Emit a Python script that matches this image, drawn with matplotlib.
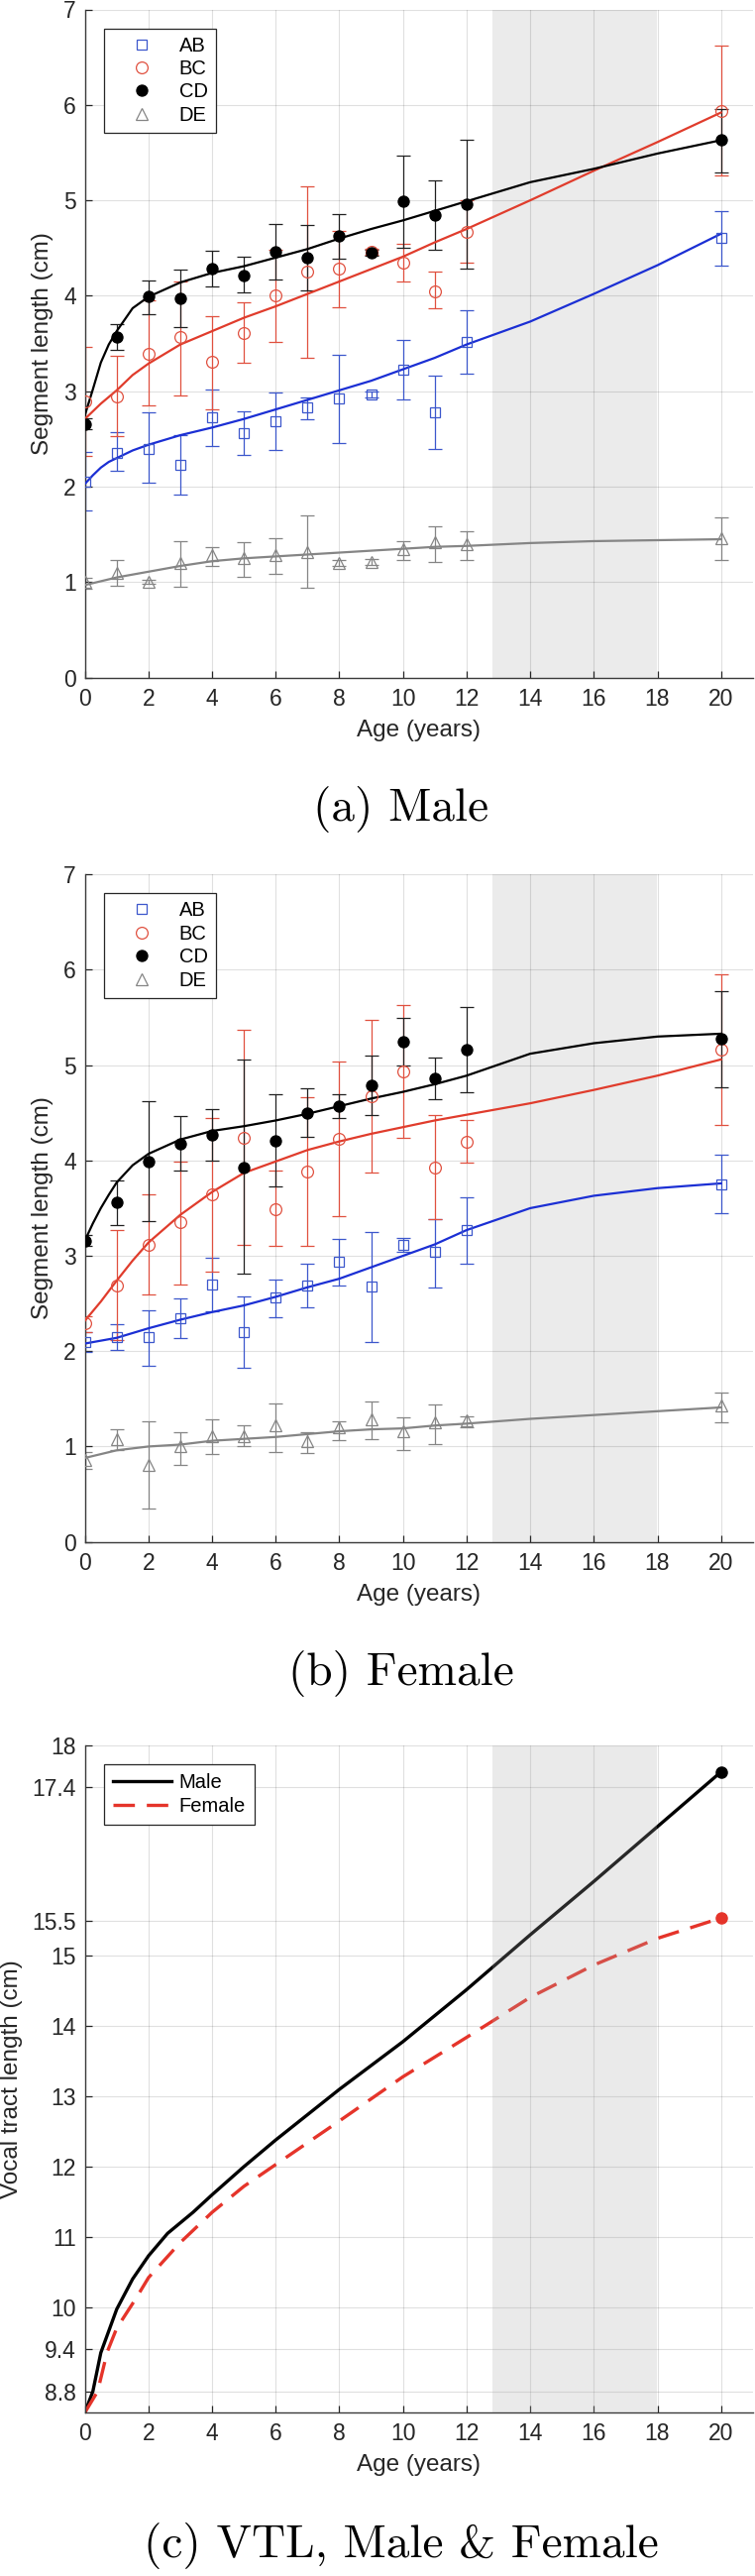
import matplotlib
matplotlib.use('Agg')
import matplotlib.pyplot as plt
from matplotlib.lines import Line2D
from matplotlib.ticker import FormatStrFormatter
import numpy as np

plt.rcParams['font.family'] = ['Liberation Sans', 'DejaVu Sans']

# ---------------- data ----------------
ages = [0, 1, 2, 3, 4, 5, 6, 7, 8, 9, 10, 11, 12, 20]
fit_x = [0, 0.25, 0.5, 0.75, 1, 1.5, 2, 3, 4, 5, 6, 7, 8, 9, 10, 11, 12, 14, 16, 18, 20]
segments = ['AB', 'BC', 'CD', 'DE']

# Male (a)
m_ab = [2.05, 2.35, 2.40, 2.23, 2.73, 2.56, 2.69, 2.83, 2.92, 2.97, 3.23, 2.78, 3.52, 4.61]
m_ab_hi = [2.36, 2.57, 2.78, 2.54, 3.02, 2.79, 2.99, 2.94, 3.38, 3.00, 3.54, 3.16, 3.85, 4.89]
m_ab_lo = [1.75, 2.17, 2.04, 1.92, 2.43, 2.33, 2.39, 2.71, 2.46, 2.94, 2.91, 2.40, 3.18, 4.32]
m_bc = [2.89, 2.95, 3.39, 3.57, 3.31, 3.61, 4.00, 4.25, 4.29, 4.46, 4.35, 4.05, 4.67, 5.94]
m_bc_hi = [3.46, 3.37, 3.95, 4.15, 3.79, 3.93, 4.48, 5.15, 4.68, 4.49, 4.54, 4.25, 5.00, 6.62]
m_bc_lo = [2.32, 2.53, 2.85, 2.96, 2.81, 3.30, 3.52, 3.35, 3.88, 4.43, 4.15, 3.87, 4.35, 5.26]
m_cd = [2.66, 3.57, 3.99, 3.97, 4.29, 4.21, 4.46, 4.40, 4.63, 4.45, 4.99, 4.85, 4.96, 5.63]
m_cd_hi = [2.72, 3.70, 4.16, 4.27, 4.47, 4.41, 4.75, 4.74, 4.86, 4.48, 5.47, 5.21, 5.63, 5.96]
m_cd_lo = [2.60, 3.43, 3.81, 3.67, 4.10, 4.04, 4.17, 4.06, 4.39, 4.42, 4.50, 4.48, 4.28, 5.29]
m_de = [1.00, 1.10, 1.00, 1.20, 1.28, 1.25, 1.28, 1.32, 1.20, 1.21, 1.35, 1.42, 1.40, 1.46]
m_de_hi = [1.05, 1.23, 1.02, 1.43, 1.37, 1.42, 1.46, 1.70, 1.23, 1.24, 1.43, 1.59, 1.53, 1.68]
m_de_lo = [0.93, 0.96, 0.98, 0.95, 1.17, 1.06, 1.09, 0.94, 1.17, 1.18, 1.23, 1.21, 1.23, 1.23]

m_ab_fit = [2.03, 2.12, 2.20, 2.26, 2.30, 2.38, 2.44, 2.54, 2.62, 2.71, 2.81, 2.91, 3.01, 3.11, 3.23, 3.35, 3.49, 3.73, 4.02, 4.32, 4.65]
m_bc_fit = [2.71, 2.79, 2.87, 2.94, 3.01, 3.17, 3.29, 3.49, 3.63, 3.77, 3.89, 4.02, 4.15, 4.28, 4.41, 4.56, 4.70, 5.00, 5.31, 5.61, 5.92]
m_cd_fit = [2.75, 3.02, 3.30, 3.49, 3.63, 3.87, 3.99, 4.14, 4.24, 4.31, 4.40, 4.49, 4.60, 4.70, 4.79, 4.89, 4.99, 5.19, 5.33, 5.49, 5.63]
m_de_fit = [0.97, 0.99, 1.01, 1.03, 1.05, 1.08, 1.11, 1.17, 1.22, 1.25, 1.27, 1.29, 1.31, 1.33, 1.35, 1.37, 1.38, 1.41, 1.43, 1.44, 1.45]

# Female (b)
f_ab = [2.10, 2.15, 2.15, 2.35, 2.70, 2.20, 2.56, 2.69, 2.94, 2.68, 3.12, 3.04, 3.27, 3.75]
f_ab_hi = [2.20, 2.28, 2.43, 2.55, 2.98, 2.57, 2.75, 2.92, 3.18, 3.25, 3.19, 3.39, 3.61, 4.06]
f_ab_lo = [1.99, 2.01, 1.85, 2.14, 2.42, 1.83, 2.36, 2.46, 2.69, 2.10, 3.04, 2.67, 2.92, 3.45]
f_bc = [2.29, 2.69, 3.12, 3.35, 3.64, 4.24, 3.49, 3.88, 4.23, 4.67, 4.93, 3.93, 4.20, 5.16]
f_bc_hi = [2.37, 3.27, 3.65, 3.99, 4.45, 5.37, 3.89, 4.66, 5.04, 5.47, 5.63, 4.48, 4.42, 5.95]
f_bc_lo = [2.20, 2.12, 2.59, 2.70, 2.83, 3.12, 3.10, 3.10, 3.42, 3.87, 4.24, 3.38, 3.98, 4.37]
f_cd = [3.16, 3.56, 3.99, 4.18, 4.27, 3.93, 4.21, 4.50, 4.57, 4.79, 5.25, 4.86, 5.16, 5.28]
f_cd_hi = [3.22, 3.79, 4.62, 4.47, 4.54, 5.06, 4.69, 4.76, 4.69, 5.10, 5.50, 5.08, 5.61, 5.78]
f_cd_lo = [3.10, 3.32, 3.36, 3.89, 4.00, 2.81, 3.73, 4.25, 4.45, 4.48, 5.00, 4.64, 4.72, 4.77]
f_de = [0.86, 1.08, 0.81, 1.00, 1.11, 1.11, 1.22, 1.06, 1.20, 1.29, 1.16, 1.25, 1.27, 1.43]
f_de_hi = [0.94, 1.18, 1.26, 1.15, 1.28, 1.22, 1.45, 1.15, 1.26, 1.47, 1.31, 1.44, 1.32, 1.57]
f_de_lo = [0.77, 0.96, 0.35, 0.81, 0.92, 1.00, 0.94, 0.93, 1.07, 1.08, 0.96, 1.03, 1.20, 1.25]

f_ab_fit = [2.08, 2.095, 2.11, 2.125, 2.14, 2.19, 2.24, 2.33, 2.41, 2.48, 2.57, 2.67, 2.76, 2.88, 3.00, 3.12, 3.27, 3.50, 3.63, 3.71, 3.76]
f_bc_fit = [2.32, 2.42, 2.52, 2.63, 2.74, 2.95, 3.14, 3.43, 3.67, 3.87, 3.99, 4.11, 4.20, 4.28, 4.35, 4.42, 4.48, 4.60, 4.74, 4.89, 5.06]
f_cd_fit = [3.16, 3.34, 3.50, 3.64, 3.77, 3.95, 4.07, 4.22, 4.31, 4.36, 4.42, 4.49, 4.57, 4.65, 4.72, 4.80, 4.89, 5.12, 5.23, 5.30, 5.33]
f_de_fit = [0.88, 0.90, 0.92, 0.94, 0.96, 0.98, 1.00, 1.02, 1.06, 1.08, 1.10, 1.13, 1.16, 1.18, 1.19, 1.22, 1.24, 1.29, 1.33, 1.37, 1.41]

# VTL (c)
vtl_m_x = [0, 0.25, 0.5, 1, 1.5, 2, 2.6, 3.4, 4, 5, 6, 8, 10, 12, 14, 16, 18, 20]
vtl_m = [8.5, 8.8, 9.35, 9.97, 10.4, 10.73, 11.05, 11.35, 11.6, 12.0, 12.38, 13.1, 13.78, 14.52, 15.3, 16.06, 16.84, 17.62]
vtl_f_x = [0, 0.4, 0.7, 1, 1.6, 2, 3, 4, 5, 6, 8, 10, 12, 14, 16, 18, 20]
vtl_f = [8.5, 8.8, 9.36, 9.7, 10.12, 10.42, 10.92, 11.35, 11.72, 12.03, 12.65, 13.28, 13.84, 14.41, 14.87, 15.25, 15.54]

seg_yticks = [0, 1, 2, 3, 4, 5, 6, 7]
vtl_yticks = [8.8, 9.4, 10, 11, 12, 13, 14, 15, 15.5, 17.4, 18]
xticks = [0, 2, 4, 6, 8, 10, 12, 14, 16, 18, 20]
puberty = (12.8, 18)
captions = ['(a) Male', '(b) Female', '(c) VTL, Male & Female']

# ---------------- styles ----------------
C_BLUE_L = '#1b2fd4'
C_BLUE_M = '#3c57cc'
C_RED_L = '#e03c2c'
C_RED_M = '#e0503f'
C_BLACK = '#000000'
C_GRAY = '#858585'
seg_style = {
    'AB': dict(marker='s', mfc='none', mec=C_BLUE_M, ms=6.5, line=C_BLUE_L, err=C_BLUE_M),
    'BC': dict(marker='o', mfc='none', mec=C_RED_M, ms=8.5, line=C_RED_L, err=C_RED_M),
    'CD': dict(marker='o', mfc='k', mec='k', ms=8, line=C_BLACK, err='#202020'),
    'DE': dict(marker='^', mfc='none', mec=C_GRAY, ms=9, line=C_GRAY, err=C_GRAY),
}

W, H = 762, 2599
fig = plt.figure(figsize=(W / 100, H / 100), dpi=100)

def px_axes(top, bottom, left=85.7, right=759.8):
    return fig.add_axes([left / W, 1 - bottom / H, (right - left) / W, (bottom - top) / H])

def style_axes(ax, ylim, yticks, ylabel, ylabel_x):
    ax.set_xlim(0, 21)
    ax.set_ylim(*ylim)
    ax.set_xticks(xticks)
    ax.set_yticks(yticks)
    ax.yaxis.set_major_formatter(FormatStrFormatter('%g'))
    ax.grid(True, color='k', alpha=0.12, lw=0.8)
    ax.set_axisbelow(True)
    for s in ['top', 'right']:
        ax.spines[s].set_visible(False)
    for s in ['left', 'bottom']:
        ax.spines[s].set_color('#3a3a3a')
        ax.spines[s].set_linewidth(1.0)
    ax.tick_params(direction='in', length=5, width=0.9, colors='#262626', labelsize=16.5)
    ax.tick_params(axis='x', pad=7.5)
    ax.tick_params(axis='y', pad=6.5)
    ax.set_xlabel('Age (years)', fontsize=17.5, color='#262626')
    ax.set_ylabel(ylabel, fontsize=17.5, color='#262626')
    ax.xaxis.label.set_va('center')
    ax.yaxis.label.set_va('center')
    ax.xaxis.set_label_coords(0.5, -53 / 674)
    ax.yaxis.set_label_coords(ylabel_x, 0.5)

def seg_panel(ax, data):
    ax.axvspan(*puberty, color='#ebebeb', lw=0, zorder=0.2)
    handles = []
    for seg in segments:
        vals, lo, hi, fit = data[seg]
        st = seg_style[seg]
        v = np.array(vals)
        yerr = [v - np.array(lo), np.array(hi) - v]
        ax.errorbar(ages, vals, yerr=yerr, fmt='none', ecolor=st['err'],
                    elinewidth=0.9, capsize=5, capthick=0.9, zorder=2)
        ax.plot(fit_x, fit, color=st['line'], lw=1.6, zorder=3)
        ax.plot(ages, vals, ls='none', marker=st['marker'], mfc=st['mfc'],
                mec=st['mec'], ms=st['ms'], mew=0.9, zorder=4)
        handles.append(Line2D([], [], ls='none', marker=st['marker'], mfc=st['mfc'],
                              mec=st['mec'], ms=st['ms'], mew=0.9, label=seg))
    leg = ax.legend(handles=handles, loc='upper left', bbox_to_anchor=(0.0286, 0.9717),
                    fontsize=14.5, frameon=True, fancybox=False, framealpha=1,
                    edgecolor='#262626', borderpad=0.4, handlelength=3.0,
                    handletextpad=0.35, labelspacing=0.22, borderaxespad=0)
    leg.get_frame().set_linewidth(0.9)
    style_axes(ax, (0, 7), seg_yticks, 'Segment length (cm)', -0.063)

# Panel (a)
ax1 = px_axes(9.5, 683.7)
seg_panel(ax1, {
    'AB': (m_ab, m_ab_lo, m_ab_hi, m_ab_fit),
    'BC': (m_bc, m_bc_lo, m_bc_hi, m_bc_fit),
    'CD': (m_cd, m_cd_lo, m_cd_hi, m_cd_fit),
    'DE': (m_de, m_de_lo, m_de_hi, m_de_fit),
})

# Panel (b)
ax2 = px_axes(882.3, 1555.6)
seg_panel(ax2, {
    'AB': (f_ab, f_ab_lo, f_ab_hi, f_ab_fit),
    'BC': (f_bc, f_bc_lo, f_bc_hi, f_bc_fit),
    'CD': (f_cd, f_cd_lo, f_cd_hi, f_cd_fit),
    'DE': (f_de, f_de_lo, f_de_hi, f_de_fit),
})

# Panel (c)
ax3 = px_axes(1760.8, 2434)
ax3.plot(vtl_m_x, vtl_m, color='k', lw=2.4, zorder=2, label='Male',
         solid_joinstyle='round')
ax3.plot(vtl_f_x, vtl_f, color='#e5342a', lw=2.4, ls=(0, (6.5, 3.6)), zorder=2,
         label='Female')
ax3.plot([vtl_m_x[-1]], [vtl_m[-1]], marker='o', color='k', ms=8, zorder=4)
ax3.plot([vtl_f_x[-1]], [vtl_f[-1]], marker='o', color='#e5342a', ms=8, zorder=4)
ax3.axvspan(*puberty, color='#a8a8a8', alpha=0.24, lw=0, zorder=3)
leg = ax3.legend(loc='upper left', bbox_to_anchor=(0.0286, 0.9715), fontsize=14.5,
                 frameon=True, fancybox=False, framealpha=1, edgecolor='#262626',
                 borderpad=0.45, handlelength=2.95, handletextpad=0.35,
                 labelspacing=0.25, borderaxespad=0)
leg.get_frame().set_linewidth(0.9)
style_axes(ax3, (8.5, 18), vtl_yticks, 'Vocal tract length (cm)', -0.109)

# Captions
cap_y = [817, 1688, 2569]
for txt, yy in zip(captions, cap_y):
    fig.text(405 / W, 1 - yy / H, txt, ha='center', va='center', fontsize=34,
             family=['cmr10', 'DejaVu Serif'])

fig.savefig('out.png', dpi=100)
